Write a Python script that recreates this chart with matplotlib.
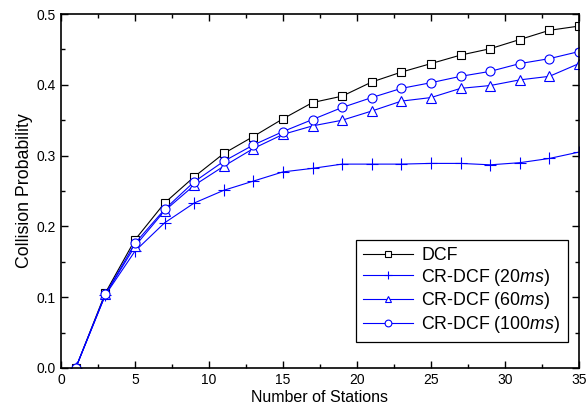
import matplotlib
matplotlib.use("Agg")
import matplotlib.pyplot as plt
from matplotlib.ticker import MultipleLocator

plt.rcParams["font.family"] = ["Liberation Sans", "DejaVu Sans"]
plt.rcParams["mathtext.fontset"] = "custom"
plt.rcParams["mathtext.it"] = "Liberation Sans:italic"
plt.rcParams["mathtext.rm"] = "Liberation Sans"

stations = [1, 3, 5, 7, 9, 11, 13, 15, 17, 19, 21, 23, 25, 27, 29, 31, 33, 35]
dcf = [0.0, 0.106, 0.181, 0.233, 0.270, 0.303, 0.327, 0.352, 0.375, 0.384,
       0.404, 0.418, 0.430, 0.442, 0.451, 0.464, 0.477, 0.483]
cr20 = [0.0, 0.103, 0.165, 0.205, 0.233, 0.251, 0.264, 0.277, 0.282, 0.288,
        0.288, 0.288, 0.289, 0.289, 0.287, 0.290, 0.296, 0.305]
cr60 = [0.0, 0.104, 0.172, 0.222, 0.258, 0.285, 0.310, 0.330, 0.342, 0.350,
        0.363, 0.377, 0.382, 0.395, 0.399, 0.407, 0.412, 0.430]
cr100 = [0.0, 0.104, 0.176, 0.224, 0.263, 0.292, 0.315, 0.334, 0.351, 0.368,
         0.382, 0.395, 0.403, 0.412, 0.419, 0.430, 0.437, 0.447]

fig = plt.figure(figsize=(5.86, 4.13), dpi=100)
ax = fig.add_axes([0.104, 0.109, 0.884, 0.857])

blue = "#0000ff"
ax.plot(stations, dcf, color="black", lw=0.8, marker="s", ms=6,
        mfc="white", mec="black", mew=0.8, label="DCF")
ax.plot(stations, cr20, color=blue, lw=0.8, marker="+", ms=8,
        mec=blue, mew=0.8, label="CR-DCF (20$\\it{ms}$)")
ax.plot(stations, cr60, color=blue, lw=0.8, marker="^", ms=6.5,
        mfc="white", mec=blue, mew=0.8, label="CR-DCF (60$\\it{ms}$)")
ax.plot(stations, cr100, color=blue, lw=0.8, marker="o", ms=6.5,
        mfc="white", mec=blue, mew=0.8, label="CR-DCF (100$\\it{ms}$)")

ax.set_xlim(0, 35)
ax.set_ylim(0, 0.5)
ax.xaxis.set_major_locator(MultipleLocator(5))
ax.xaxis.set_minor_locator(MultipleLocator(2.5))
ax.yaxis.set_major_locator(MultipleLocator(0.1))
ax.yaxis.set_minor_locator(MultipleLocator(0.05))
ax.yaxis.set_major_formatter(matplotlib.ticker.FormatStrFormatter("%.1f"))
ax.tick_params(which="both", direction="in", top=True, right=True,
               labelsize=10, width=1)
ax.tick_params(which="major", length=5)
ax.tick_params(which="minor", length=3)
for s in ax.spines.values():
    s.set_linewidth(1.2)

ax.set_xlabel("Number of Stations", fontsize=11.5, labelpad=2)
ax.set_ylabel("Collision Probability", fontsize=12.8, labelpad=3)

leg = ax.legend(loc="lower right", bbox_to_anchor=(0.978, 0.073), fontsize=12.8,
                fancybox=False, framealpha=1, edgecolor="black",
                handlelength=2.8, handletextpad=0.5, borderpad=0.4,
                labelspacing=0.15, markerscale=0.75, borderaxespad=0)
leg.get_frame().set_linewidth(0.9)

fig.savefig("out.png", dpi=100)
